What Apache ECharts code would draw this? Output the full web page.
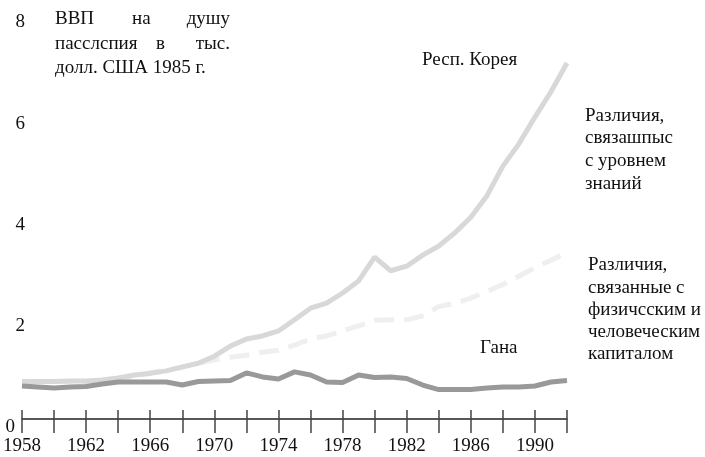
<!DOCTYPE html>
<html>
<head>
<meta charset="utf-8">
<script src="https://cdn.jsdelivr.net/npm/echarts@6/dist/echarts.min.js"></script>
<style>
  html, body { margin: 0; padding: 0; background: #fff; }
  #chart { width: 705px; height: 457px; }
</style>
</head>
<body>
<div id="chart"></div>
<script>
// годы по оси X
const years = []
for (let y = 1958; y <= 1992; y++) years.push(y)

// ВВП на душу, тыс. долл. США 1985 г.
const korea = [0.90, 0.90, 0.90, 0.91, 0.91, 0.93, 0.97, 1.03, 1.06, 1.11,
  1.19, 1.26, 1.40, 1.60, 1.74, 1.80, 1.90, 2.12, 2.35, 2.45,
  2.65, 2.89, 3.36, 3.09, 3.18, 3.40, 3.58, 3.84, 4.15, 4.57,
  5.16, 5.60, 6.13, 6.63, 7.20]
const capital = [0.90, 0.90, 0.90, 0.90, 0.90, 0.91, 0.93, 0.97, 1.08, 1.12,
  1.18, 1.26, 1.33, 1.38, 1.42, 1.48, 1.52, 1.62, 1.74, 1.80,
  1.90, 2.00, 2.11, 2.12, 2.12, 2.20, 2.38, 2.45, 2.55, 2.68,
  2.82, 2.98, 3.15, 3.30, 3.45]
const ghana = [0.81, 0.79, 0.77, 0.79, 0.80, 0.85, 0.89, 0.89, 0.89, 0.89,
  0.83, 0.90, 0.91, 0.92, 1.07, 0.99, 0.95, 1.09, 1.03, 0.89,
  0.88, 1.03, 0.98, 0.99, 0.96, 0.83, 0.74, 0.74, 0.74, 0.77,
  0.79, 0.79, 0.81, 0.89, 0.92]

const serif = '"Liberation Serif", "Times New Roman", serif'
const ink = '#111'

function pairs (vals) {
  return years.map((y, i) => [y, vals[i]])
}

// подписи - через title
function txt (text, x, y, align) {
  const t = {
    text: text,
    top: y - 12,
    padding: 0,
    textStyle: { color: ink, fontFamily: serif, fontSize: 19, fontWeight: 'normal' }
  }
  if (align === 'right') t.right = 705 - x
  else t.left = x
  return t
}

const chart = echarts.init(document.getElementById('chart'))
chart.setOption({
  animation: false,
  title: [
    // подпись оси Y
    txt('ВВП', 55, 22),
    txt('на', 132, 22),
    txt('душу', 230, 22, 'right'),
    txt('пасслспия', 55, 47),
    txt('в', 156, 47),
    txt('тыс.', 230, 47, 'right'),
    txt('долл. США 1985 г.', 55, 71),
    // подписи линий
    txt('Респ. Корея', 422, 63),
    txt('Гана', 480, 351),
    txt('Различия,', 585, 119),
    txt('связашпыс', 585, 141),
    txt('с', 585, 164),
    txt('уровнем', 666, 164, 'right'),
    txt('знаний', 585, 187),
    txt('Различия,', 588, 268),
    txt('связанные с', 588, 291),
    txt('физичсским и', 588, 313),
    txt('человеческим', 588, 335),
    txt('капиталом', 588, 357)
  ],
  grid: { left: 19, right: 138, top: 22.5, bottom: 30 },
  xAxis: [
    {
      type: 'value',
      position: 'bottom',
      min: 1958,
      max: 1992,
      interval: 2,
      offset: -8,
      axisLine: { onZero: false, lineStyle: { color: '#222', width: 1.5 } },
      axisTick: { length: 14, lineStyle: { color: '#444', width: 1.5 } },
      splitLine: { show: false },
      axisLabel: {
        margin: 18,
        color: ink,
        fontFamily: serif,
        fontSize: 19,
        formatter: v => ((v - 1958) % 4 === 0 && v < 1992 ? String(v) : '')
      }
    },
    {
      // верхняя половина засечек
      type: 'value',
      position: 'bottom',
      min: 1958,
      max: 1992,
      interval: 2,
      offset: -8,
      axisLine: { show: false, onZero: false },
      axisTick: { inside: true, length: 9, lineStyle: { color: '#444', width: 1.5 } },
      splitLine: { show: false },
      axisLabel: { show: false }
    }
  ],
  yAxis: [
    {
      type: 'value',
      position: 'left',
      min: 0,
      max: 8,
      interval: 2,
      axisLine: { show: false },
      axisTick: { show: false },
      splitLine: { show: false },
      axisLabel: {
        margin: -3,
        align: 'right',
        color: ink,
        fontFamily: serif,
        fontSize: 19,
        showMinLabel: false
      }
    },
    {
      // ноль у оригинала стоит левее остальных подписей
      type: 'value',
      position: 'left',
      offset: 10,
      min: 0,
      max: 8,
      interval: 2,
      axisLine: { show: false },
      axisTick: { show: false },
      splitLine: { show: false },
      axisLabel: {
        margin: -3,
        align: 'right',
        color: ink,
        fontFamily: serif,
        fontSize: 19,
        formatter: v => (v === 0 ? '0' : '')
      }
    }
  ],
  series: [
    {
      name: 'физический и человеческий капитал',
      type: 'line',
      data: pairs(capital),
      showSymbol: false,
      lineStyle: { color: '#efefef', width: 5, type: 'dashed' }
    },
    {
      name: 'Респ. Корея',
      type: 'line',
      data: pairs(korea),
      showSymbol: false,
      lineStyle: { color: '#d8d8d8', width: 5 }
    },
    {
      name: 'Гана',
      type: 'line',
      data: pairs(ghana),
      showSymbol: false,
      lineStyle: { color: '#999999', width: 5 }
    }
  ]
})
</script>
</body>
</html>
